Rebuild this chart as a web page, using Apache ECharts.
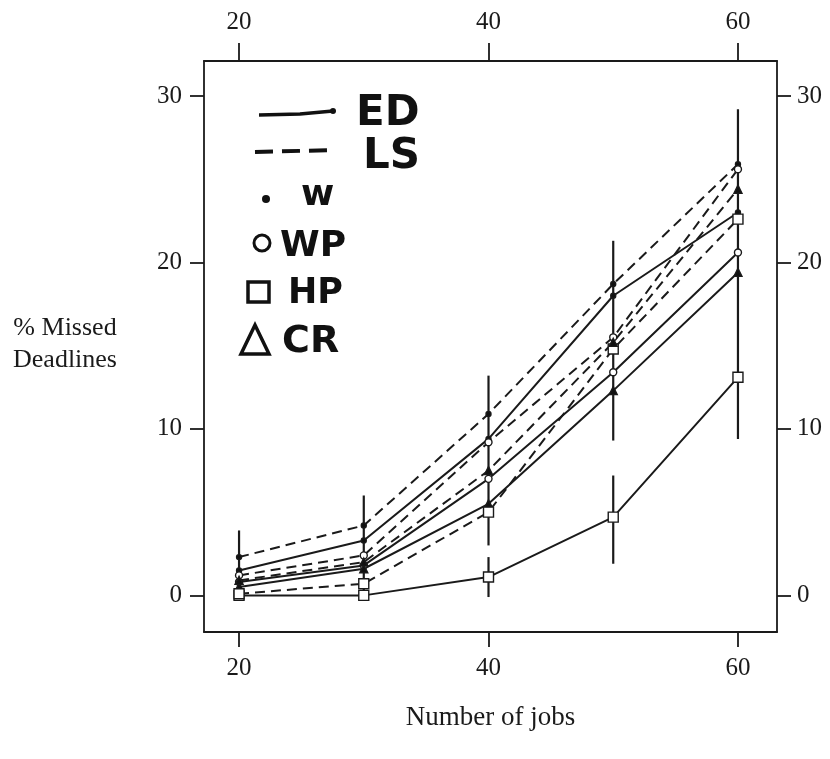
<!DOCTYPE html>
<html>
<head>
<meta charset="utf-8">
<script src="https://cdn.jsdelivr.net/npm/echarts@6/dist/echarts.min.js"></script>
<style>html,body{margin:0;padding:0;background:#fff}#c{width:830px;height:759px}</style>
</head>
<body>
<div id="c"></div>
<script>
var jobs = [20, 30, 40, 50, 60];
var xTicks = [20, 40, 60];
var yTicks = [0, 10, 20, 30];

var edW  = [1.5, 3.3, 9.4, 18.0, 23.0];
var edWP = [0.8, 1.8, 7.0, 13.4, 20.6];
var edHP = [0.0, 0.0, 1.1, 4.7, 13.1];
var edCR = [0.5, 1.6, 5.5, 12.3, 19.4];
var lsW  = [2.3, 4.2, 10.9, 18.7, 25.9];
var lsWP = [1.2, 2.4, 9.2, 15.5, 25.6];
var lsHP = [0.1, 0.7, 5.0, 14.8, 22.6];
var lsCR = [0.9, 2.0, 7.5, 15.2, 24.4];

var errX    = [20, 30, 40, 40, 50, 50, 60];
var errLow  = [0.0, 0.0, 3.0, -0.1, 9.3, 1.9, 9.4];
var errHigh = [3.9, 6.0, 13.2, 2.3, 21.3, 7.2, 29.2];

var serif = '"Liberation Serif", "DejaVu Serif", serif';
var hand = '"DejaVu Sans", sans-serif';

function pairs(ys){ return jobs.map(function(x,i){ return [x, ys[i]]; }); }

var markers = {
  W:  {symbol:'circle', size:5, fill:'#111'},
  WP: {symbol:'circle', size:7, fill:'#fff'},
  HP: {symbol:'rect', size:10, fill:'#fff'},
  CR: {symbol:'triangle', size:8, fill:'#111'}
};

function lineSeries(name, ys, dashed, mk){
  var m = markers[mk];
  return {
    name: name, type:'line', data: pairs(ys),
    symbol: m.symbol, symbolSize: m.size, showAllSymbol:true,
    lineStyle:{color:'#1a1a1a', width:2, type: dashed ? [10,6] : 'solid'},
    itemStyle:{color:m.fill, borderColor:'#1a1a1a', borderWidth:1.4},
    z: 3, animation:false, silent:true
  };
}

var errData = errX.map(function(x,i){ return [x, errLow[i], errHigh[i]]; });

var series = [
  lineSeries('ED-W', edW, false, 'W'),
  lineSeries('ED-WP', edWP, false, 'WP'),
  lineSeries('ED-HP', edHP, false, 'HP'),
  lineSeries('ED-CR', edCR, false, 'CR'),
  lineSeries('LS-W', lsW, true, 'W'),
  lineSeries('LS-WP', lsWP, true, 'WP'),
  lineSeries('LS-HP', lsHP, true, 'HP'),
  lineSeries('LS-CR', lsCR, true, 'CR'),
  {
    type:'custom', data: errData, z:2, animation:false, silent:true,
    encode:{x:0, y:[1,2]},
    renderItem: function(params, api){
      var p1 = api.coord([api.value(0), api.value(1)]);
      var p2 = api.coord([api.value(0), api.value(2)]);
      return {type:'line', shape:{x1:p1[0], y1:p1[1], x2:p2[0], y2:p2[1]},
              style:{stroke:'#1a1a1a', lineWidth:2.2}};
    }
  }
];

var axisCommon = {
  type:'value', splitLine:{show:false},
  axisLine:{show:true, onZero:false, lineStyle:{color:'#1a1a1a', width:1.8}},
  axisTick:{show:true, inside:false, lineStyle:{color:'#1a1a1a', width:1.8}},
  axisLabel:{color:'#1a1a1a', fontFamily:serif, fontSize:25}
};

function mk(extra){ return echarts.util.merge(JSON.parse(JSON.stringify(axisCommon)), extra, true); }

var xMin = 17.19, xMax = 63.13, yMin = -2.2, yMax = 32.1;

var option = {
  backgroundColor:'#fff',
  grid:{left:204, right:53, top:61, bottom:127},
  xAxis:[
    mk({position:'bottom', min:xMin, max:xMax,
        axisTick:{length:15, customValues:xTicks},
        axisLabel:{margin:24, customValues:xTicks},
        name:'Number of jobs', nameLocation:'middle', nameGap:72,
        nameTextStyle:{fontFamily:serif, fontSize:27, color:'#1a1a1a'}}),
    mk({position:'top', min:xMin, max:xMax,
        axisTick:{length:18, customValues:xTicks},
        axisLabel:{margin:26, customValues:xTicks}})
  ],
  yAxis:[
    mk({position:'left', min:yMin, max:yMax,
        axisTick:{length:14, customValues:yTicks},
        axisLabel:{margin:22, customValues:yTicks}}),
    mk({position:'right', min:yMin, max:yMax,
        axisTick:{length:14, customValues:yTicks},
        axisLabel:{margin:20, customValues:yTicks}})
  ],
  series: series,
  graphic:[
    {type:'text', x:65, y:344, style:{text:'% Missed\nDeadlines', font:'26px '+serif, fill:'#1a1a1a', align:'center', verticalAlign:'middle', lineHeight:32}},
    // handwritten legend
    {type:'polyline', shape:{points:[[259,115],[300,114],[333,111]]}, style:{stroke:'#111', lineWidth:3.5, fill:null}},
    {type:'circle', shape:{cx:333, cy:111, r:3}, style:{fill:'#111'}},
    {type:'text', x:356, y:114, style:{text:'ED', font:'bold 42px '+hand, fill:'#111', verticalAlign:'middle'}},
    {type:'line', shape:{x1:255, y1:152, x2:335, y2:150}, style:{stroke:'#111', lineWidth:4, lineDash:[18,9]}},
    {type:'text', x:363, y:157, style:{text:'LS', font:'bold 42px '+hand, fill:'#111', verticalAlign:'middle'}},
    {type:'circle', shape:{cx:266, cy:199, r:4}, style:{fill:'#111'}},
    {type:'text', x:301, y:196, style:{text:'w', font:'bold 36px '+hand, fill:'#111', verticalAlign:'middle'}},
    {type:'circle', shape:{cx:262, cy:243, r:8}, style:{fill:'none', stroke:'#111', lineWidth:3}},
    {type:'text', x:280, y:247, style:{text:'WP', font:'bold 36px '+hand, fill:'#111', verticalAlign:'middle'}},
    {type:'rect', shape:{x:248, y:282, width:21, height:20}, style:{fill:'none', stroke:'#111', lineWidth:3.5}},
    {type:'text', x:288, y:294, style:{text:'HP', font:'bold 35px '+hand, fill:'#111', verticalAlign:'middle'}},
    {type:'polygon', shape:{points:[[255,325],[241,354],[269,354]]}, style:{fill:'none', stroke:'#111', lineWidth:3.5}},
    {type:'text', x:282, y:342, style:{text:'CR', font:'bold 38px '+hand, fill:'#111', verticalAlign:'middle'}}
  ]
};

var chart = echarts.init(document.getElementById('c'), null, {renderer:'canvas'});
chart.setOption(option);
</script>
</body>
</html>
